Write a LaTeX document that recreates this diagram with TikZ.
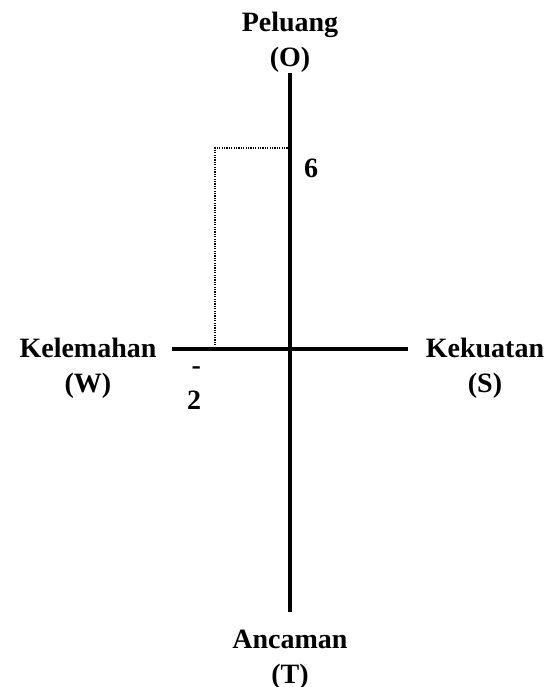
\documentclass[tikz,border=0pt]{standalone}
\usepackage{fontspec}
\setmainfont{Liberation Serif}
\usepackage{amsmath}

\tikzset{
  lbl/.style={font=\fontsize{14}{17.5}\selectfont\bfseries, align=center, anchor=base, inner sep=0pt},
  axis/.style={line width=2pt},
  guide/.style={line width=0.7pt, dash pattern=on 0.6pt off 0.6pt}
}

\begin{document}
\begin{tikzpicture}[x=0.5pt,y=-0.5pt]
\useasboundingbox (0,0) rectangle (547,687);
\coordinate (top) at (290,73);
\coordinate (bot) at (290,612);
\coordinate (lft) at (172,349);
\coordinate (rgt) at (408,349);
\coordinate (py) at (290,148);
\coordinate (pc) at (215,148);
\coordinate (px) at (215,349);
\draw[axis] (top) -- (bot);
\draw[axis] (lft) -- (rgt);
\draw[guide] (py) -- (pc) -- (px);
% base of each label = base of its last line
\node[lbl] (o) at (290,66) {Peluang\\(O)};
\node[lbl] (w) at (88,392) {Kelemahan\\(W)};
\node[lbl] (s) at (485,392) {Kekuatan\\(S)};
\node[lbl] (t) at (290,683) {Ancaman\\(T)};
\node[lbl] (six) at (311,177) {6};
\node[lbl, align=right] (two) at (194,409) {-\\2};
\end{tikzpicture}
\end{document}
